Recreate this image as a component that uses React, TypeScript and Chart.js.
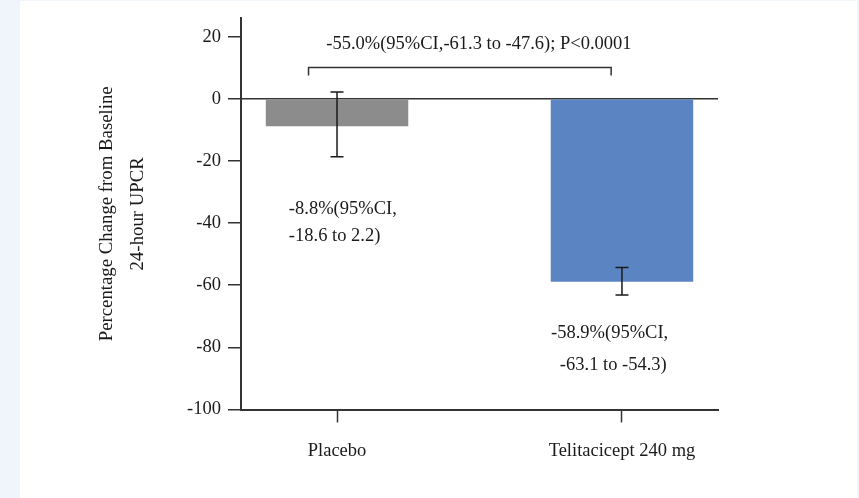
import React, { useEffect, useRef } from "react";
import { Chart, registerables } from "chart.js";

Chart.register(...registerables);

// ---- data ----
const categories = ["Placebo", "Telitacicept 240 mg"];
const meanChange = [-8.8, -58.9];
const ciLow = [-18.6, -63.1];
const ciHigh = [2.2, -54.3];
const barColors = ["#8c8c8c", "#5b84c3"];
const yTickValues = [-100, -80, -60, -40, -20, 0, 20];
const yTitleLines = ["Percentage Change from Baseline", "24-hour UPCR"];
const compareText = "-55.0%(95%CI,-61.3 to -47.6); P<0.0001";
const barNoteLines = [
  ["-8.8%(95%CI,", "-18.6 to 2.2)"],
  ["-58.9%(95%CI,", "-63.1 to -54.3)"],
];

// annotation placement (data coordinates)
const noteAnchors = [
  [{ x: -0.169, y: -35.5 }, { x: -0.169, y: -44.2 }],
  [{ x: 0.751, y: -75.5 }, { x: 0.782, y: -85.8 }],
];
const bracket = { from: -0.1, to: 0.962, y: 10.1, tickY: 7.5, textX: 0.498, textY: 17.7 };

const FONT = "'Liberation Serif', 'Times New Roman', serif";
const FS = 18.5;
const INK = "#1a1a1a";
const AXIS = "#333333";

export default function App() {
  const ref = useRef<HTMLCanvasElement | null>(null);

  useEffect(() => {
    if (!ref.current) return;
    Chart.defaults.font.family = FONT;

    const bgPlugin = {
      id: "bg",
      beforeDraw(chart: any) {
        const { ctx, width, height } = chart;
        ctx.save();
        ctx.fillStyle = "#f0f5fc";
        ctx.fillRect(0, 0, width, height);
        ctx.fillStyle = "#ffffff";
        ctx.fillRect(20, 1, width - 22, height - 1);
        ctx.restore();
      },
    };

    const overlayPlugin = {
      id: "overlay",
      afterDatasetsDraw(chart: any) {
        const { ctx } = chart;
        const xs = chart.scales.x;
        const ys = chart.scales.y;
        ctx.save();
        // error bars
        ctx.strokeStyle = "#1a1a1a";
        ctx.lineWidth = 1.5;
        const cap = 6.5;
        categories.forEach((_, i) => {
          const px = xs.getPixelForValue(i);
          const yl = ys.getPixelForValue(ciLow[i]);
          const yh = ys.getPixelForValue(ciHigh[i]);
          ctx.beginPath();
          ctx.moveTo(px, yl);
          ctx.lineTo(px, yh);
          ctx.moveTo(px - cap, yl);
          ctx.lineTo(px + cap, yl);
          ctx.moveTo(px - cap, yh);
          ctx.lineTo(px + cap, yh);
          ctx.stroke();
        });
        // comparison bracket
        const bx1 = xs.getPixelForValue(bracket.from);
        const bx2 = xs.getPixelForValue(bracket.to);
        const by = ys.getPixelForValue(bracket.y);
        const bt = ys.getPixelForValue(bracket.tickY);
        ctx.strokeStyle = AXIS;
        ctx.lineWidth = 1.5;
        ctx.beginPath();
        ctx.moveTo(bx1, bt);
        ctx.lineTo(bx1, by);
        ctx.lineTo(bx2, by);
        ctx.lineTo(bx2, bt);
        ctx.stroke();
        // texts
        ctx.fillStyle = INK;
        ctx.font = `${FS}px ${FONT}`;
        ctx.textBaseline = "middle";
        ctx.textAlign = "center";
        ctx.fillText(compareText, xs.getPixelForValue(bracket.textX), ys.getPixelForValue(bracket.textY));
        ctx.textAlign = "left";
        barNoteLines.forEach((lines, i) => {
          lines.forEach((t, j) => {
            const a = noteAnchors[i][j];
            ctx.fillText(t, xs.getPixelForValue(a.x), ys.getPixelForValue(a.y));
          });
        });
        ctx.restore();
      },
    };

    const chart = new Chart(ref.current, {
      type: "bar",
      data: {
        datasets: [
          {
            data: categories.map((_, i) => ({ x: i, y: meanChange[i] })),
            backgroundColor: barColors,
            borderWidth: 0,
            barPercentage: 0.5,
            categoryPercentage: 1,
          },
        ],
      },
      options: {
        responsive: false,
        animation: false,
        devicePixelRatio: 1,
        layout: { padding: { left: 91, top: 16, right: 141, bottom: 0 } },
        plugins: { legend: { display: false }, tooltip: { enabled: false } },
        scales: {
          x: {
            type: "linear",
            offset: false,
            min: -0.337,
            max: 1.337,
            afterBuildTicks: (s: any) => {
              s.ticks = categories.map((_, i) => ({ value: i }));
            },
            afterFit: (s: any) => {
              s.height = 88.5;
            },
            ticks: {
              callback: (v: any) => categories[v] ?? "",
              color: INK,
              font: { size: FS, family: FONT },
              padding: 17.5,
              maxRotation: 0,
              autoSkip: false,
            },
            grid: {
              offset: false,
              drawOnChartArea: false,
              drawTicks: true,
              tickLength: 13,
              tickColor: AXIS,
              tickWidth: 1.5,
            },
            border: { color: AXIS, width: 2 },
          },
          y: {
            min: -100,
            max: 26,
            z: 1,
            afterBuildTicks: (s: any) => {
              s.ticks = yTickValues.map((v) => ({ value: v }));
            },
            afterFit: (s: any) => {
              s.width = 150;
            },
            ticks: {
              color: INK,
              font: { size: FS, family: FONT },
              padding: 7,
            },
            grid: {
              drawOnChartArea: true,
              drawTicks: true,
              tickLength: 13,
              color: (c: any) => (c.tick && c.tick.value === 0 ? AXIS : "rgba(0,0,0,0)"),
              lineWidth: 1.5,
              tickColor: AXIS,
              tickWidth: 1.5,
            },
            border: { color: AXIS, width: 2 },
            title: {
              display: true,
              text: yTitleLines,
              color: INK,
              font: { size: 18.8, family: FONT, lineHeight: 1.68 },
              padding: { top: 0, bottom: 0 },
            },
          },
        },
      },
      plugins: [bgPlugin, overlayPlugin],
    } as any);

    return () => chart.destroy();
  }, []);

  return (
    <div style={{ position: "absolute", left: 0, top: 0, width: 859, height: 498 }}>
      <canvas ref={ref} width={859} height={498} style={{ display: "block" }} />
    </div>
  );
}
